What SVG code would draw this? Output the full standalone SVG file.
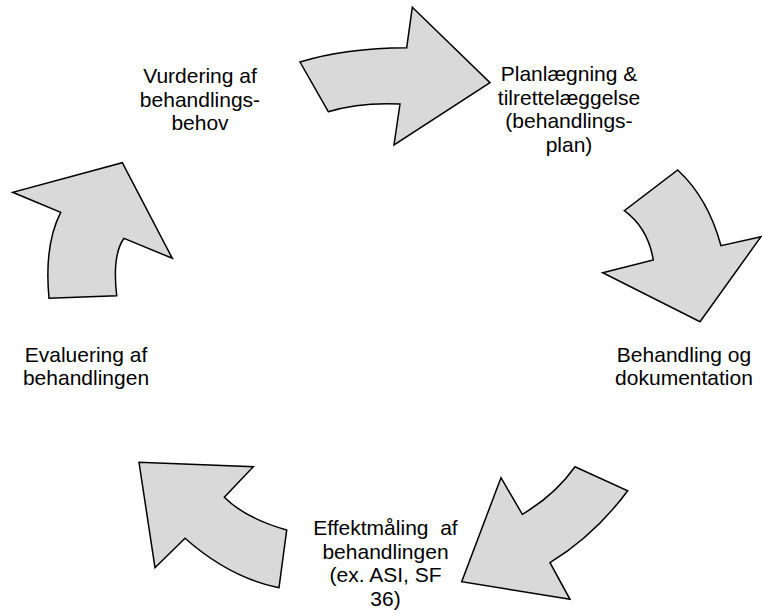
<svg xmlns="http://www.w3.org/2000/svg" width="762" height="613" viewBox="0 0 762 613">
<style>
.arrow{fill:#d9d9d9;stroke:#000;stroke-width:1.5;stroke-linejoin:miter}
.lbl{font-family:"Liberation Sans",Arial,sans-serif;font-size:21px;fill:#000;text-anchor:middle;white-space:pre}
</style>
<rect width="762" height="613" fill="#fff"/>
<g id="connectors">
<path id="arrow1" class="arrow" d="M300,62 Q345,48 406.7,47.7 L412.3,7.3 L490,82.7 L394,145 L400,104 Q360,102 328.3,111.7 Z"/>
<path id="arrow2" class="arrow" d="M677.7,170 Q708,198 721,245.7 L761,236.7 L700,321.7 L602.7,272.7 L653.3,260 Q648,228 624.3,210.7 Z"/>
<path id="arrow3" class="arrow" d="M627.7,490.7 Q595,535 550,562.7 L570,599.3 L461.7,581.7 L501,477.7 L522.3,514.3 Q555,495 575,466.7 Z"/>
<path id="arrow4" class="arrow" d="M286.7,530 Q245,518 224.3,497.3 L253.3,466.7 L139,462.3 L155,567.7 L185,538.3 Q230,578 279,587.7 Z"/>
<path id="arrow5" class="arrow" d="M49,298.3 Q44,245 60.7,212.3 L12.7,192.3 L122.3,162.7 L172.3,258.3 L124,238.3 Q112,255 116.7,295.7 Z"/>
</g>
<g id="node-vurdering">
<text class="lbl" x="200" y="83">Vurdering af</text>
<text class="lbl" x="200" y="106.5">behandlings-</text>
<text class="lbl" x="200" y="130">behov</text>
</g>
<g id="node-planlaegning">
<text class="lbl" x="569" y="81">Planlægning &amp;</text>
<text class="lbl" x="569" y="104.5">tilrettelæggelse</text>
<text class="lbl" x="569" y="128">(behandlings-</text>
<text class="lbl" x="569" y="151.5">plan)</text>
</g>
<g id="node-behandling">
<text class="lbl" x="684" y="361.5">Behandling og</text>
<text class="lbl" x="684" y="385">dokumentation</text>
</g>
<g id="node-effektmaaling">
<text class="lbl" x="385.5" y="535">Effektmåling  af</text>
<text class="lbl" x="385.5" y="558.5">behandlingen</text>
<text class="lbl" x="385.5" y="582">(ex. ASI, SF</text>
<text class="lbl" x="385.5" y="605.5">36)</text>
</g>
<g id="node-evaluering">
<text class="lbl" x="86" y="361.5">Evaluering af</text>
<text class="lbl" x="86" y="385">behandlingen</text>
</g>
</svg>
